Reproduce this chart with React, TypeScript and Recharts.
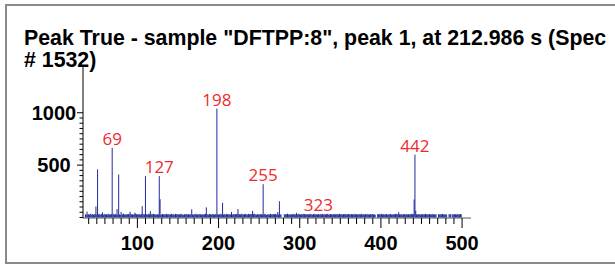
import { BarChart, Bar, XAxis, YAxis } from "recharts";

// spectrum starts at m/z 30, one intensity per unit mass
const massStart = 30;
const noise = [
  0, 0, 0, 0, 0, 0, 30, 26, 34, 28,
  31, 25, 36, 27, 30, 33, 24, 29, 35, 26,
  28, 32, 27, 35, 30, 24, 33, 29, 26, 31,
  34, 27, 30, 25, 36, 28, 31, 26, 33, 29,
  30, 35, 26, 32, 28, 31, 27, 34, 29, 25,
  33, 28, 30, 36, 27, 31, 25, 32, 29, 34,
  26, 31, 35, 28, 30, 24, 33, 27, 36, 29,
  31, 26, 34, 29, 25, 32, 28, 35, 27, 30,
  28, 33, 25, 31, 36, 27, 30, 34, 26, 32,
  35, 29, 27, 32, 24, 31, 28, 33, 30, 26,
  29, 34, 31, 25, 33, 27, 36, 28, 30, 32,
  27, 30, 35, 26, 32, 29, 25, 34, 31, 28,
  33, 26, 30, 28, 35, 31, 27, 24, 32, 29,
  30, 34, 27, 31, 26, 33, 28, 35, 29, 25,
  32, 28, 36, 27, 30, 25, 34, 29, 31, 26,
  28, 33, 26, 31, 35, 30, 27, 32, 24, 34,
  31, 27, 30, 34, 28, 26, 33, 29, 35, 30,
  26, 32, 29, 35, 27, 31, 28, 33, 25, 30,
  34, 29, 31, 26, 32, 28, 35, 27, 30, 33,
  27, 31, 34, 29, 25, 33, 30, 28, 36, 26,
  32, 28, 30, 35, 27, 31, 26, 34, 29, 33,
  29, 33, 27, 31, 36, 28, 30, 25, 32, 27,
  31, 26, 34, 28, 30, 33, 27, 35, 29, 24,
  28, 32, 30, 26, 35, 29, 31, 27, 33, 30,
  34, 27, 31, 29, 26, 32, 28, 30, 0, 0,
  0, 29, 33, 27, 31, 36, 28, 30, 25, 32,
  27, 30, 34, 28, 32, 26, 45, 29, 31, 35,
  30, 26, 33, 29, 27, 35, 31, 28, 32, 26,
  33, 28, 30, 35, 27, 31, 26, 34, 29, 32,
  29, 31, 27, 34, 30, 26, 33, 28, 35, 30,
  26, 32, 29, 31, 35, 28, 30, 27, 33, 29,
  31, 27, 34, 28, 30, 33, 26, 32, 29, 35,
  28, 33, 30, 26, 32, 29, 35, 27, 31, 28,
  34, 29, 31, 27, 33, 30, 26, 35, 28, 32,
  30, 26, 33, 29, 31, 28, 35, 27, 32, 30,
  27, 32, 29, 34, 28, 31, 26, 33, 30, 29,
  33, 28, 30, 26, 0, 0, 31, 29, 34, 27,
  30, 35, 28, 32, 27, 31, 29, 33, 26, 30,
  28, 31, 34, 27, 30, 26, 33, 29, 32, 35,
  31, 28, 50, 30, 27, 33, 29, 26, 32, 30,
  27, 34, 30, 28, 31, 26, 33, 29, 35, 30,
  32, 28, 30, 38, 30, 27, 33, 29, 31, 26,
  30, 33, 27, 31, 29, 35, 28, 32, 26, 30,
  33, 29, 31, 27, 34, 28, 30, 26, 32, 0,
  0, 31, 28, 33, 27, 30, 35, 29, 26, 32,
  30, 27, 0, 0, 31, 28, 33, 0, 29, 31,
  28, 32, 30, 26, 34, 29, 31, 27, 33, 30,
  0,
];

const peakMasses = [38, 49, 51, 57, 69, 75, 77, 80, 91, 97, 106, 110, 116, 127, 128, 167, 185, 198, 205, 216, 224, 242, 255, 273, 275, 422, 441, 442, 443];
const peakHeights = [55, 105, 460, 50, 665, 80, 410, 52, 55, 45, 108, 395, 60, 395, 175, 78, 96, 1040, 140, 52, 80, 63, 318, 52, 155, 50, 172, 600, 65];

const labelMasses = [69, 127, 198, 255, 323, 442];

const xMajor = [100, 200, 300, 400, 500];
const yMajor = [500, 1000];
const xTicks = Array.from({ length: 47 }, (_, i) => 40 + i * 10);
const yTicks = Array.from({ length: 21 }, (_, i) => i * 50);

const data = noise.map((v, i) => {
  const mass = massStart + i;
  const p = peakMasses.indexOf(mass);
  return { mass, intensity: p >= 0 ? peakHeights[p] : v };
});

const BLUE = "#1f2c9c";
const RED = "#ee2a2e";
const AXIS_FONT = "'Liberation Sans', Arial, sans-serif";

const Stick = (props: any) => {
  const { x, y, width, height } = props;
  if (!height) return null;
  const cx = x + width / 2;
  return <line x1={cx} x2={cx} y1={y} y2={y + height} stroke={BLUE} strokeWidth={1} />;
};

const PeakLabel = (props: any) => {
  const { x, y, width, index } = props;
  const mass = data[index]?.mass;
  if (!labelMasses.includes(mass)) return null;
  return (
    <text x={x + width / 2} y={y - 3} textAnchor="middle" fill={RED} fontSize={17} fontFamily="'Open Sans', sans-serif">
      {mass}
    </text>
  );
};

const XTick = (props: any) => {
  const { x, y, payload } = props;
  const major = xMajor.includes(payload.value);
  return (
    <g>
      <line x1={x} x2={x} y1={y} y2={y + (major ? 10 : 6)} stroke="#000" strokeWidth={1} />
      {major && (
        <text x={x} y={y + 32} textAnchor="middle" fontSize={20} fontWeight="bold" fontFamily={AXIS_FONT} fill="#000">
          {payload.value}
        </text>
      )}
    </g>
  );
};

const YTick = (props: any) => {
  const { x, y, payload } = props;
  const major = yMajor.includes(payload.value);
  return (
    <g>
      <line x1={x} x2={x - (major ? 6 : 3.5)} y1={y} y2={y} stroke="#000" strokeWidth={1} />
      {major && (
        <text x={x - 29} y={y + 7} textAnchor="middle" fontSize={20} fontWeight="bold" fontFamily={AXIS_FONT} fill="#000">
          {payload.value}
        </text>
      )}
    </g>
  );
};

export default function App() {
  return (
    <div style={{ position: "relative", width: 615, height: 265, overflow: "hidden", background: "#fff" }}>
      <style>{`body{margin:0}`}</style>
      <div
        style={{
          position: "absolute",
          left: 5,
          top: 4,
          width: 700,
          height: 256,
          border: "2px solid #8a8a8a",
        }}
      />
      <div
        style={{
          position: "absolute",
          left: 24,
          top: 27,
          width: 590,
          fontFamily: AXIS_FONT,
          fontWeight: "bold",
          fontSize: 21.33,
          lineHeight: "22px",
          color: "#000",
        }}
      >
        Peak True - sample "DFTPP:8", peak 1, at 212.986 s (Spec # 1532)
      </div>
      <div style={{ position: "absolute", left: 0, top: 0 }}>
        <BarChart width={615} height={265} data={data} margin={{ top: 67, right: 144, bottom: 17, left: 23 }} barCategoryGap={0}>
          <XAxis
            dataKey="mass"
            type="number"
            domain={[33, 511]}
            allowDataOverflow
            ticks={xTicks}
            interval={0}
            tickLine={false}
            tickSize={0}
            tickMargin={0}
            tick={<XTick />}
            axisLine={{ stroke: "#555", strokeWidth: 1 }}
            height={30}
          />
          <YAxis
            type="number"
            domain={[-5, 1437]}
            allowDataOverflow
            ticks={yTicks}
            interval={0}
            tickLine={false}
            tickSize={0}
            tickMargin={0}
            tick={<YTick />}
            axisLine={{ stroke: "#000", strokeWidth: 1 }}
            width={60}
          />
          <Bar dataKey="intensity" barSize={1} shape={<Stick />} label={<PeakLabel />} isAnimationActive={false} />
        </BarChart>
      </div>
    </div>
  );
}
